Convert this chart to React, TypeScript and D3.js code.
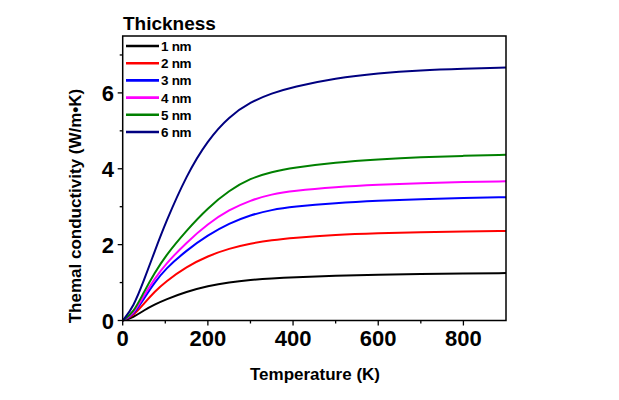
import React from "react";
import * as d3 from "d3";

const temps = [0, 25, 50, 75, 100, 150, 200, 250, 300, 350, 400, 500, 600, 700, 800, 900];
const series1 = [0, 0.08, 0.27, 0.42, 0.55, 0.76, 0.91, 1.01, 1.07, 1.11, 1.14, 1.18, 1.21, 1.23, 1.24, 1.25];
const series2 = [0, 0.12, 0.45, 0.76, 1.02, 1.42, 1.7, 1.9, 2.03, 2.12, 2.18, 2.26, 2.3, 2.33, 2.35, 2.36];
const series3 = [0, 0.14, 0.58, 1.0, 1.36, 1.85, 2.25, 2.56, 2.78, 2.92, 3.0, 3.1, 3.16, 3.2, 3.23, 3.25];
const series4 = [0, 0.16, 0.66, 1.1, 1.48, 2.06, 2.55, 2.92, 3.17, 3.33, 3.42, 3.52, 3.58, 3.62, 3.65, 3.67];
const series5 = [0, 0.2, 0.76, 1.25, 1.7, 2.38, 2.97, 3.43, 3.75, 3.92, 4.03, 4.17, 4.25, 4.31, 4.34, 4.37];
const series6 = [0, 0.35, 1.06, 1.82, 2.56, 3.84, 4.76, 5.38, 5.76, 5.99, 6.16, 6.39, 6.52, 6.6, 6.64, 6.67];
const labels = ["1 nm", "2 nm", "3 nm", "4 nm", "5 nm", "6 nm"];
const colors = ["#000000", "#ff0000", "#0000ff", "#ff00ff", "#008000", "#000080"];
const xTicks = [0, 200, 400, 600, 800];
const xMinor = [100, 300, 500, 700];
const yTicks = [0, 2, 4, 6];
const yMinor = [1, 3, 5, 7];

const allSeries = [series1, series2, series3, series4, series5, series6];

export default function App() {
  const left = 122.7, right = 506, top = 36, bottom = 320.5;
  const x = d3.scaleLinear().domain([0, 900]).range([left, right]);
  const y = d3.scaleLinear().domain([0, 7.5]).range([bottom, top]);
  const line = d3
    .line<[number, number]>()
    .x((d) => x(d[0]))
    .y((d) => y(d[1]))
    .curve(d3.curveBasis);
  const font = "'Liberation Sans', Arial, sans-serif";

  return (
    <svg
      width={619}
      height={400}
      style={{ position: "absolute", left: 0, top: 0, background: "#fff" }}
      fontFamily={font}
    >
      <rect width={619} height={400} fill="#fff" />
      {allSeries.map((s, i) => (
        <path
          key={i}
          d={line(temps.map((t, j) => [t, s[j]] as [number, number])) || ""}
          fill="none"
          stroke={colors[i]}
          strokeWidth={2}
        />
      ))}
      <rect x={left} y={top} width={right - left} height={bottom - top} fill="none" stroke="#000" strokeWidth={1.5} />
      {xTicks.map((t) => (
        <g key={"xt" + t}>
          <line x1={x(t)} x2={x(t)} y1={bottom} y2={bottom + 5} stroke="#000" strokeWidth={1.3} />
          <text x={x(t)} y={346} textAnchor="middle" fontSize={22} fontWeight="bold">
            {t}
          </text>
        </g>
      ))}
      {xMinor.map((t) => (
        <line key={"xm" + t} x1={x(t)} x2={x(t)} y1={bottom} y2={bottom + 3} stroke="#000" strokeWidth={1.3} />
      ))}
      {yTicks.map((t) => (
        <g key={"yt" + t}>
          <line x1={left - 5} x2={left} y1={y(t)} y2={y(t)} stroke="#000" strokeWidth={1.3} />
          <text x={114} y={y(t) + 8} textAnchor="end" fontSize={22} fontWeight="bold">
            {t}
          </text>
        </g>
      ))}
      {yMinor.map((t) => (
        <line key={"ym" + t} x1={left - 3} x2={left} y1={y(t)} y2={y(t)} stroke="#000" strokeWidth={1.3} />
      ))}
      <text x={315} y={380} textAnchor="middle" fontSize={17} fontWeight="bold">
        Temperature (K)
      </text>
      <text transform={`translate(81,206) rotate(-90)`} textAnchor="middle" fontSize={17} fontWeight="bold">
        Themal conductivity (W/m•K)
      </text>
      <text x={123} y={30} fontSize={19} fontWeight="bold">
        Thickness
      </text>
      {labels.map((lab, i) => {
        const ly = 46 + i * 17.2;
        return (
          <g key={lab}>
            <line x1={126} x2={159} y1={ly} y2={ly} stroke={colors[i]} strokeWidth={2.6} />
            <text x={161} y={ly + 5} fontSize={13.5} fontWeight="bold" letterSpacing={-0.3}>
              {lab}
            </text>
          </g>
        );
      })}
    </svg>
  );
}
